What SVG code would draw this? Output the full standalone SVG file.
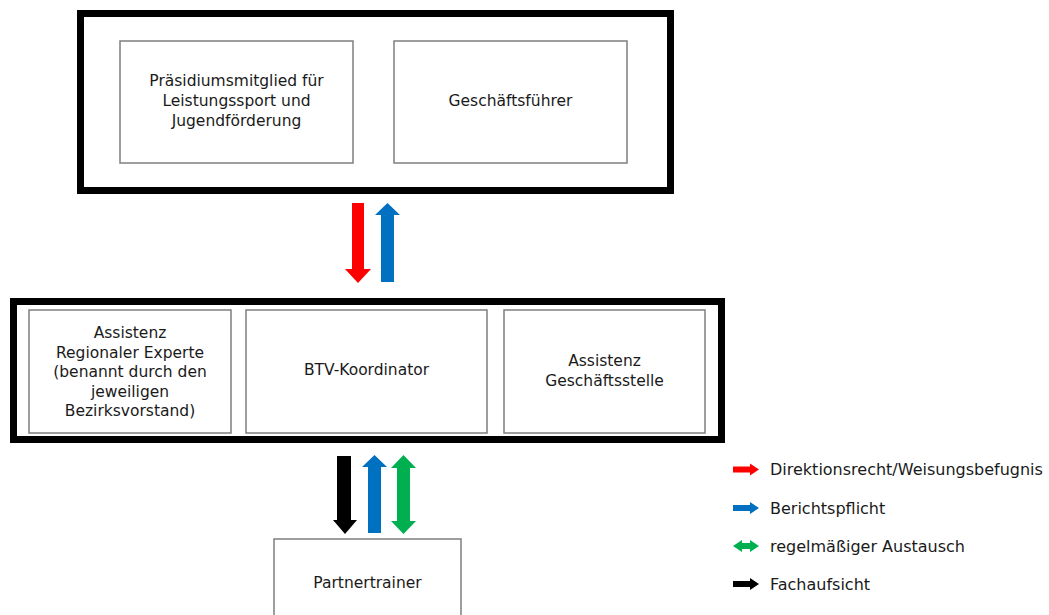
<svg xmlns="http://www.w3.org/2000/svg" width="1049" height="615" viewBox="0 0 1049 615">
<style>
.frame{fill:none;stroke:#000;stroke-width:7}
.box{fill:#fff;stroke:#7f7f7f;stroke-width:1.5}
.t{font-family:"DejaVu Sans",Verdana,sans-serif;font-size:15.5px;fill:#1a1a1a;text-anchor:middle}
.lg{font-family:"DejaVu Sans",Verdana,sans-serif;font-size:16px;fill:#1a1a1a}
.red{fill:#ff0000}.blue{fill:#0070c0}.green{fill:#00b050}.black{fill:#000}
</style>
<rect width="1049" height="615" fill="#fff"/>
<g id="leitung">
<rect class="frame" x="80.5" y="13.5" width="590" height="177"/>
</g>
<g id="praesidium">
<rect class="box" x="120" y="41" width="233" height="122"/>
<text class="t" x="236.5" y="86">Präsidiumsmitglied für</text>
<text class="t" x="236.5" y="106">Leistungssport und</text>
<text class="t" x="236.5" y="126">Jugendförderung</text>
</g>
<g id="geschaeftsfuehrer">
<rect class="box" x="394" y="41" width="233" height="122"/>
<text class="t" x="510.5" y="106">Geschäftsführer</text>
</g>
<g id="koordination">
<rect class="frame" x="13.5" y="301.5" width="708" height="138"/>
</g>
<g id="assistenz-regional">
<rect class="box" x="29" y="310" width="202" height="123"/>
<text class="t" x="130" y="338">Assistenz</text>
<text class="t" x="130" y="357.5">Regionaler Experte</text>
<text class="t" x="130" y="377">(benannt durch den</text>
<text class="t" x="130" y="396.5">jeweiligen</text>
<text class="t" x="130" y="416">Bezirksvorstand)</text>
</g>
<g id="btv-koordinator">
<rect class="box" x="246" y="310" width="241" height="123"/>
<text class="t" x="366.5" y="375">BTV-Koordinator</text>
</g>
<g id="assistenz-gs">
<rect class="box" x="504" y="310" width="201" height="123"/>
<text class="t" x="604.5" y="366">Assistenz</text>
<text class="t" x="604.5" y="386">Geschäftsstelle</text>
</g>
<g id="partnertrainer">
<rect class="box" x="274" y="539" width="187" height="90"/>
<text class="t" x="367.5" y="588">Partnertrainer</text>
</g>
<g id="connectors">
<polygon class="red" points="352,203 364,203 364,269 371,269 358,283 345,269 352,269"/>
<polygon class="blue" points="387.5,203 400,215 394,215 394,282 381,282 381,215 375,215"/>
<polygon class="black" points="337,456 351,456 351,520 357,520 345,534 333,520 337,520"/>
<polygon class="blue" points="374.5,455 387,467 381,467 381,533 368,533 368,467 362,467"/>
<polygon class="green" points="403.5,455 416,468 410,468 410,521 416,521 403.5,534 391,521 397,521 397,468 391,468"/>
</g>
<g id="legende">
<polygon class="red" points="733,466.5 750,466.5 750,463.5 759,469.5 750,475.5 750,472.5 733,472.5"/>
<text class="lg" x="770" y="475">Direktionsrecht/Weisungsbefugnis</text>
<polygon class="blue" points="733,505 750,505 750,502 759,508 750,514 750,511 733,511"/>
<text class="lg" x="770" y="513.5">Berichtspflicht</text>
<polygon class="green" points="733,546 742,540 742,543 750,543 750,540 759,546 750,552 750,549 742,549 742,552"/>
<text class="lg" x="770" y="551.5">regelmäßiger Austausch</text>
<polygon class="black" points="733,581 750,581 750,578 759,584 750,590 750,587 733,587"/>
<text class="lg" x="770" y="589.5">Fachaufsicht</text>
</g>
</svg>
